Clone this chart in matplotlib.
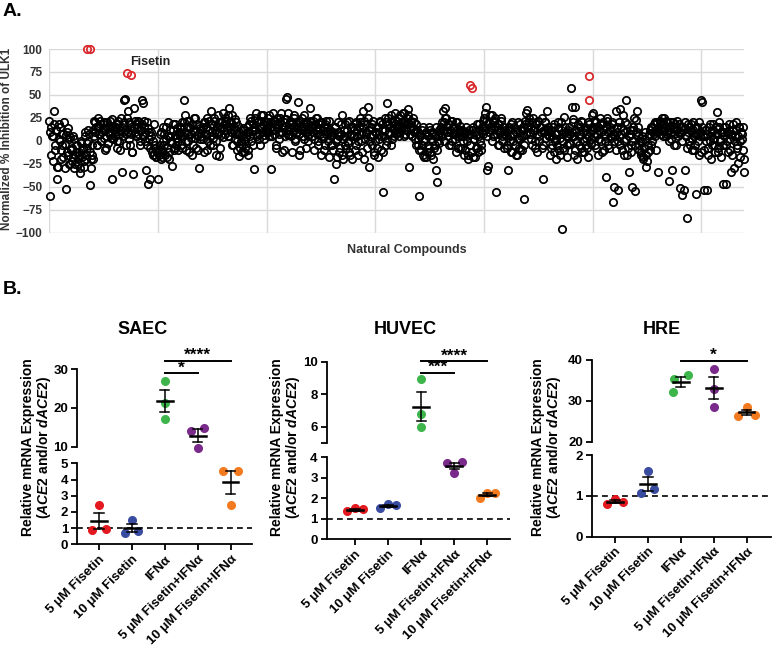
import numpy as np
import matplotlib.pyplot as plt

plt.rcParams['font.family'] = ['Liberation Sans', 'DejaVu Sans']
plt.rcParams['font.weight'] = 'bold'
plt.rcParams['mathtext.fontset'] = 'custom'
plt.rcParams['mathtext.it'] = 'Liberation Sans:italic:bold'
plt.rcParams['mathtext.rm'] = 'Liberation Sans:bold'

# ---------------- panel A: ULK1 screen ----------------
# even compounds (0, 2, 4, ...) incl. the outliers
screen_even = [
    22, -60, 15, 5, 32, -10, 12, -42, -28, 18, 0, -20, -5, 8, -30, -52, 10, -15, 2, -25,
    -10, -22, 5, -30, -15, -5, -25, -12, -35, 0, -18, -8, -28, 10, -20, -2, 12, -48, -30, -15,
    -20, 22, 10, 15, -5, 25, 8, 18, 0, 12, 20, -10, 5, 15, -2, 10, 22, 3, -42, 15,
    5, 15, -8, 18, 0, 12, 25, -34, 10, 44, 46, 8, 32, 20, -5, 15, -12, -36, 36, 10,
    18, 5, 22, -5, 12, 44, 41, 15, 0, -32, 20, -47, 10, -42, 5, -15, 18, -8, -18, -12,
    -42, -15, 8, -20, -10, 15, -5, 2, -18, 20, -12, 5, 0, -27, 12, -8, 18, 3, -10, 8,
    10, -5, 20, 5, 44, 28, -10, 15, 0, 22, 8, -15, 12, 25, 3, -8, 18, 6, -30, 14,
    5, 15, -12, 20, 8, 25, 0, 12, -5, 32, 18, 3, 22, -15, 10, 28, -17, 15, 6, 20,
    30, 12, 25, 18, 5, 36, 20, 10, 28, -5, 15, 2, 20, -10, 8, -17, 0, -3, 12, -12,
    -8, 5, 15, -15, 10, 25, 0, 18, -31, 12, 30, 5, 20, 8, -5, 22, 15, 28, 2, 10,
    15, 25, 5, 20, -31, 12, 30, 8, 22, -8, 18, 2, 25, 10, -12, 15, 20, 5, 46, 48,
    30, 8, 20, -12, 15, 25, 2, 18, 10, 42, -15, 22, 12, 5, 28, 15, -8, 20, 0, 12,
    36, 15, 5, 22, -10, 12, 25, 0, 18, 8, -15, 20, 3, 15, -5, 22, 10, -18, 12, 5,
    -5, 10, -42, 15, -25, 2, 20, -12, 8, 28, -20, 5, 18, -8, 12, -2, 22, -15, 6, 15,
    12, -10, 20, 5, -15, 15, 25, 0, 10, 33, -20, 8, 18, 37, -28, 5, 15, -5, 22, -12,
    0, 15, -18, 8, 20, -10, 12, -56, 5, 25, -5, 41, 18, 10, 28, 2, 20, 12, 30, 8,
    22, 15, 5, 28, 12, 20, 30, 8, 18, 25, 35, -28, 15, 22, 5, 12, 20, -5, 10, 2,
    -60, 5, -10, 12, -15, 0, 8, -18, -5, 15, -12, 2, 10, -20, -8, 5, -32, -45, 0, 12,
    15, 5, 32, 20, 36, 25, 10, 18, -5, 12, 22, 0, 15, 8, -12, 20, 5, 12, -8, 10,
    -8, 5, -15, 10, 0, -20, 12, -5, 8, -12, 15, 2, -18, 6, -8, 18, 0, -10, 10, 22,
    25, 30, 37, -32, -27, 20, 12, 28, 5, 22, 15, -56, 8, 18, -5, 12, 25, 0, 15, 8,
    10, -5, -32, 15, 5, -12, 20, 0, 8, -15, 12, 3, -8, 18, 5, -10, 15, -63, 22, 30,
    34, 20, 8, 15, -5, 25, 12, 0, 18, -12, 22, 5, 15, -8, -41, 10, 20, 3, 32, 12,
    5, -15, 12, -5, 18, 0, -20, 8, 15, -10, 3, 20, -96, -8, 26, 10, -18, 5, 15, -3,
    58, 37, 24, -15, 37, 10, -20, 5, 15, -8, 20, 0, -12, 12, -5, 8, -18, 18, 2, 28,
    30, 15, -5, 20, 8, -15, 12, 25, 0, 18, -10, 5, -39, 22, 10, -8, 15, 3, 20, -67,
    -50, 33, 10, -54, 5, 35, 15, -10, 28, 0, 20, 44, -15, -34, 8, -5, -50, 12, 25, -55,
    23, 33, 5, -10, -15, 0, -20, -8, 10, -28, -22, -12, 5, 12, -5, 15, 8, 20, -10, 10,
    -34, 15, 22, 8, 18, 12, 25, 5, 20, 10, -44, 15, 2, -32, 20, 8, 15, -5, 12, 18,
    -51, 10, -59, 15, -53, -32, 5, -84, 18, 0, 12, -10, 20, 5, -5, -58, 15, 8, -15, 10,
    44, 42, -54, 5, 12, -54, -8, 15, 0, -20, 10, 18, -5, 8, 31, -12, 15, 2, -18, 10,
    -47, 10, 15, -47, 0, 12, -10, -34, 8, 18, -30, 5, 12, -5, -24, 15, 0, 8, -10, -34,
]
# odd compounds (1, 3, 5, ...) - the dense core of the cloud
screen_odd = [
    10, -15, 5, -22, 18, -5, 12, -28, 2, 15, -10, 8, -18, 20, -3, 6, -12, 14, -25, 4,
    -8, -18, 2, -25, -12, -5, -20, -15, -30, -2, -10, -22, 5, -15, -8, 0, 8, -12, -20, -5,
    12, 5, 20, -5, 15, 8, 22, 0, 10, 18, 3, 14, -8, 20, 10, 6, 16, 24, 2, 12,
    10, 18, 0, 22, 8, -10, 15, 5, 20, 12, -5, 25, 10, 2, 18, 8, -12, 14, 22, 5,
    15, 8, 20, 0, 12, 18, 5, 22, 10, -5, 14, 2, -8, 10, -12, 0, -15, -5, -18, -10,
    -12, -5, 10, -18, 0, 8, -15, 15, -8, 5, -20, 12, -2, 18, -10, 6, -5, 14, 0, 10,
    5, 15, -8, 20, 10, 0, 22, 8, -12, 14, 3, 18, -5, 10, 25, 6, -10, 16, 2, 12,
    12, 2, 20, 8, 15, -10, 22, 5, 18, 10, -5, 25, 12, 0, 16, 8, 20, -8, 14, 4,
    18, 8, 22, 12, 28, 5, 15, 20, -5, 12, 24, 8, 0, 16, 10, -8, 5, -12, 14, 2,
    0, 10, -10, 18, 5, 22, 12, -5, 15, 25, 8, 20, 2, 14, 28, 10, 18, 6, 22, 12,
    20, 10, 28, 15, 5, 22, 12, 18, -5, 25, 14, 8, 20, 30, 10, -10, 16, 24, 12, 6,
    15, 22, 5, 18, 10, 28, 0, 14, 20, 8, -10, 16, 25, 12, 2, 20, 10, 18, 5, 22,
    20, 10, 15, 2, 18, 25, 8, -5, 14, 20, 5, 12, -10, 18, 8, 15, 0, 22, 10, -5,
    8, -10, 15, 0, -18, 10, 5, -8, 18, -15, 2, 12, -5, 20, 0, -12, 8, 15, -20, 5,
    5, 18, -5, 12, 0, 20, 8, -12, 15, 22, 2, 10, -8, 25, 12, 0, 18, 6, -15, 10,
    10, -8, 15, 2, 22, 5, 18, -12, 12, 20, 0, 25, 8, 15, -5, 22, 14, 5, 18, 10,
    18, 25, 10, 20, 15, 30, 5, 22, 12, 18, 28, 8, 20, 15, 25, 10, 2, 18, 12, -5,
    -10, 8, -5, 15, -18, 2, 10, -12, 5, -8, 12, -15, 0, 8, -5, 15, -10, 5, -2, 10,
    8, 20, 12, 0, 25, 15, 5, 18, 10, -5, 22, 8, 15, 2, 20, 12, -8, 16, 5, 12,
    0, 10, -10, 15, 5, -15, 8, -5, 12, -18, 2, 10, -8, 18, -12, 5, 12, -5, 15, 8,
    12, 22, 5, 18, 10, 28, 15, 0, 20, 8, 25, 12, -5, 18, 10, 22, 5, 15, -8, 12,
    5, -8, 12, 0, 18, -12, 8, 15, -5, 10, -15, 20, 2, -10, 12, 5, -5, 18, 8, 15,
    15, 25, 10, 2, 20, 12, -8, 18, 8, 22, 0, 15, 10, 25, -5, 12, 20, 8, 15, 5,
    10, -8, 5, 15, -12, 8, 2, -5, 20, -15, 12, 0, 8, -10, 15, 5, -5, 12, -2, 8,
    10, 20, 5, -10, 12, 0, 18, -5, 8, 22, -12, 10, 15, 3, -8, 20, 5, 12, -3, 15,
    12, 5, 22, -8, 15, 2, 18, 10, -12, 20, 8, 0, 15, 25, -5, 12, 5, 18, 8, 0,
    5, -10, 15, 0, 20, -5, 8, 12, -15, 10, 2, 18, -8, 5, 12, -12, 0, 15, -5, 8,
    10, 15, -5, 0, -12, 5, -18, -8, 2, -15, -5, 8, -10, 15, 0, 10, 18, 5, 12, 20,
    10, 20, 12, 25, 5, 18, 15, 22, 8, 12, 0, 20, 10, 15, -5, 18, 12, 22, 5, 10,
    8, 15, 0, 12, 20, 5, -8, 10, 15, -5, 18, 2, 12, -10, 8, 15, 0, 20, 5, -12,
    15, 5, -10, 12, 0, 8, -15, 18, 5, -5, 12, 2, -12, 15, 8, -8, 20, 0, 10, -5,
    5, 15, -5, 10, -12, 18, 2, 8, -15, 12, 0, 20, -8, 5, 15, -18, 10, 2, 15, -20,
]
hit_idx = [70, 74, 143, 151, 775, 777, 993, 993]
hit_vals = [100, 100, 73.5, 72, 61, 57, 71, 44]

# ---------------- panel B: qPCR ----------------
groups = ['5 μM Fisetin', '10 μM Fisetin', 'IFNα',
          '5 μM Fisetin+IFNα', '10 μM Fisetin+IFNα']
group_colors = ['#e3191f', '#3a4ca0', '#3db54a', '#7a2a8a', '#f47a20']

saec_vals = [[2.42, 0.88, 0.95], [1.5, 0.68, 0.82], [26.9, 21.3, 17.1],
             [14.1, 14.9, 9.6], [2.45, 4.5, 4.5]]
huvec_vals = [[1.35, 1.5, 1.45], [1.5, 1.7, 1.65], [8.95, 6.8, 6.0],
              [3.7, 3.25, 3.75], [2.03, 2.25, 2.25]]
hre_vals = [[0.8, 0.92, 0.85], [1.06, 1.62, 1.16], [35.4, 36.3, 32.2],
            [37.8, 32.8, 28.6], [26.4, 28.5, 26.6]]

saec_sig = [(2, 4, 32.1, '****'), (2, 3, 28.9, '*')]
huvec_sig = [(2, 4, 10.03, '****'), (2, 3, 9.3, '***')]
hre_sig = [(2, 4, 39.8, '*')]

W, H = 776, 652
fig = plt.figure(figsize=(W / 100, H / 100), dpi=100)


def frac(x0, y_top, x1, y_bot):
    return [x0 / W, 1 - y_bot / H, (x1 - x0) / W, (y_bot - y_top) / H]


# ---- panel A ----
axA = fig.add_axes(frac(49.3, 49, 744.3, 232.7))
x_even = np.arange(len(screen_even)) * 2
x_odd = np.arange(len(screen_odd)) * 2 + 1
for xx, yy in ((x_even, screen_even), (x_odd, screen_odd)):
    axA.plot(xx, yy, 'o', ms=5.3, mfc='none', mec='black', mew=1.25, zorder=3, clip_on=False)
axA.plot(hit_idx, hit_vals, 'o', ms=5.3, mfc='none', mec='#d9262b', mew=1.25, zorder=4, clip_on=False)
axA.set_xlim(0, 1279)
axA.set_ylim(-100, 100)
axA.set_yticks(np.arange(-100, 101, 25))
axA.set_xticks(np.arange(0, 1279, 200))
axA.grid(True, color='#d9d9d9', lw=1)
axA.set_axisbelow(True)
for s in axA.spines.values():
    s.set_visible(False)
axA.tick_params(axis='x', length=0, labelbottom=False)
axA.tick_params(axis='y', length=0, pad=5, labelsize=8.5, labelcolor='#333333')
axA.text(148, 86, 'Fisetin', fontsize=9, color='#222222', va='center')
fig.text(7 / W, 1 - 139 / H, 'Normalized % Inhibition of ULK1', rotation=90,
         ha='center', va='center', fontsize=8.5, color='#333333')
fig.text(407 / W, 1 - 250 / H, 'Natural Compounds', ha='center', va='center',
         fontsize=9, color='#333333')
fig.text(3 / W, 1 - 12 / H, 'A.', fontsize=14, va='center')
fig.text(3 / W, 1 - 290 / H, 'B.', fontsize=14, va='center')

# ---- panel B ----
offsets = {
    'SAEC': [[0, -0.22, 0.22], [0, -0.22, 0.2], [0, 0, 0], [-0.2, 0.2, 0], [0, -0.22, 0.22]],
    'HUVEC': [[-0.23, 0, 0.23], [-0.23, 0, 0.23], [0, 0, 0], [-0.23, 0, 0.23], [-0.23, 0, 0.23]],
    'HRE': [[-0.23, 0, 0.23], [-0.22, 0, 0.2], [-0.2, 0.22, -0.25], [0, 0, 0], [-0.25, 0, 0.25]],
}

layout = [
    # name, vals, sig, axis x0/x1 px, first category px, category step px,
    # lower (bottom px, top px, lim, ticks), upper (...), ylabel x px, title x px
    ('SAEC', saec_vals, saec_sig, 77.3, 251.7, 99, 32.9,
     (544.3, 463.3, (0, 5), range(0, 6)), (446.7, 369, (10, 30), [10, 20, 30]), 37, 143),
    ('HUVEC', huvec_vals, huvec_sig, 326.7, 510, 355, 33.1,
     (539, 457.3, (0, 4), range(0, 5)), (443.3, 361.7, (5, 10), [6, 8, 10]), 286, 405),
    ('HRE', hre_vals, hre_sig, 592, 771, 615, 32.9,
     (536.7, 455, (0, 2), range(0, 3)), (441.7, 360, (20, 40), [20, 30, 40]), 547, 662),
]

for name, vals, sig, x0, x1, c0, dc, low, up, ylab_x, title_x in layout:
    xlim = ((x0 - c0) / dc, (x1 - c0) / dc)
    ax_lo = fig.add_axes(frac(x0, low[1], x1, low[0]))
    ax_up = fig.add_axes(frac(x0, up[1], x1, up[0]))
    ax_lo.set_ylim(low[2]); ax_lo.set_yticks(list(low[3]))
    ax_up.set_ylim(up[2]); ax_up.set_yticks(up[3])
    if name == 'HUVEC':
        ax_up.set_yticks([5, 6, 8, 10], ['', '6', '8', '10'])
    for ax in (ax_lo, ax_up):
        ax.set_xlim(xlim)
        ax.patch.set_alpha(0)
        ax.spines[['top', 'right']].set_visible(False)
        for s in ax.spines.values():
            s.set_linewidth(1.3)
        ax.tick_params(width=1.3, length=4.5, labelsize=9.5, pad=2)
    ax_up.spines['bottom'].set_visible(False)
    ax_up.tick_params(axis='x', bottom=False, labelbottom=False)
    ax_lo.set_xticks(range(len(groups)))
    ax_lo.set_xticklabels(groups, rotation=45, ha='right', rotation_mode='anchor', fontsize=9.5)
    ax_lo.axhline(1, color='black', lw=1.2, ls=(0, (3.5, 2.5)), zorder=1)

    for i, (v, off, col) in enumerate(zip(vals, offsets[name], group_colors)):
        v = np.array(v)
        m = v.mean()
        se = v.std(ddof=1) / np.sqrt(len(v))
        ax = ax_up if m > low[2][1] else ax_lo
        ax.plot(i + np.array(off), v, 'o', color=col, ms=5.5, zorder=3, clip_on=False)
        ax.plot([i - 0.24, i + 0.24], [m, m], color='black', lw=1.8, zorder=4, clip_on=False)
        ax.plot([i, i], [m - se, m + se], color='black', lw=1.1, zorder=4, clip_on=False)
        for yy in (m - se, m + se):
            ax.plot([i - 0.14, i + 0.14], [yy, yy], color='black', lw=1.1, zorder=4, clip_on=False)

    for a, b, yv, stars in sig:
        ax_up.plot([a, b], [yv, yv], color='black', lw=1.4, clip_on=False)
        ax_up.annotate(stars, ((a + b) / 2, yv), xytext=(0, -1.5), textcoords='offset points',
                       ha='center', va='bottom', fontsize=12.5, annotation_clip=False)

    fig.text(title_x / W, 1 - 330 / H, name, ha='center', va='center', fontsize=13)
    fig.text(ylab_x / W, 1 - 447 / H,
             'Relative mRNA Expression\n($\\mathit{ACE2}$ and/or $\\mathit{dACE2}$)',
             rotation=90, ha='center', va='center', ma='center', fontsize=10, linespacing=1.05)

fig.savefig('out.png', dpi=100)
